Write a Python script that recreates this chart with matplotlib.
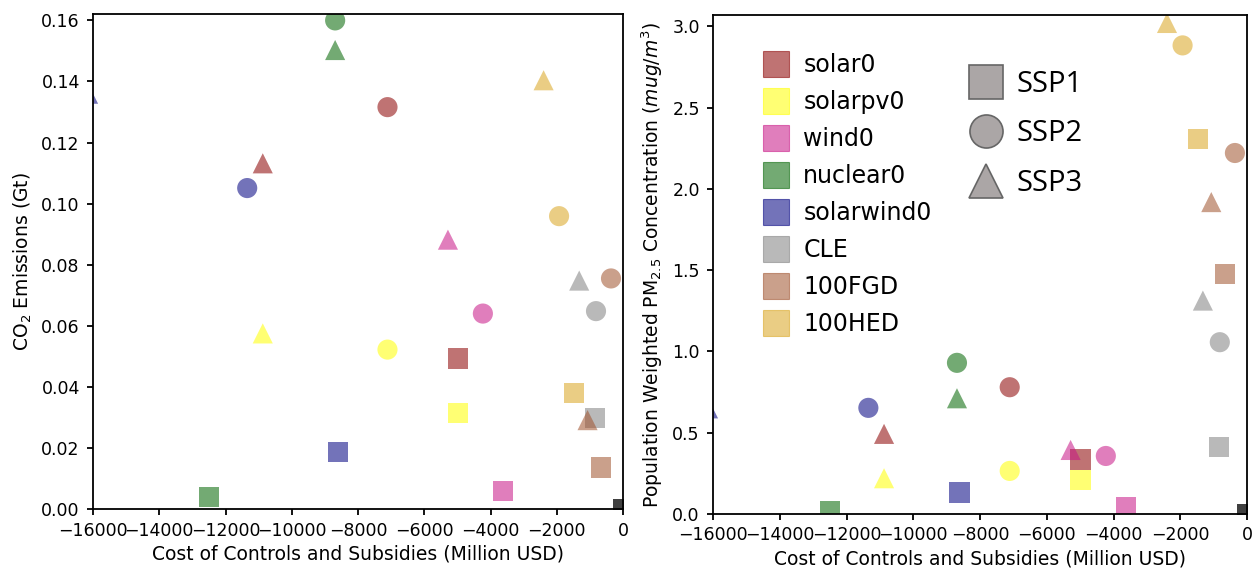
import matplotlib
matplotlib.use('Agg')
import matplotlib.pyplot as plt
from matplotlib.lines import Line2D

scenarios = ['solar0', 'solarpv0', 'wind0', 'nuclear0', 'solarwind0', 'CLE', '100FGD', '100HED']
ssp_labels = ['SSP1', 'SSP2', 'SSP3']

cost_ssp1 = [-4990, -4990, -3625, -12500, -8615, -847, -653, -1477]
cost_ssp2 = [-7110, -7110, -4230, -8690, -11345, -815, -362, -1930]
cost_ssp3 = [-10875, -10875, -5285, -8690, -16150, -1322, -1070, -2397]

co2_ssp1 = [0.0493, 0.0315, 0.0060, 0.0038, 0.0188, 0.0299, 0.0136, 0.0379]
co2_ssp2 = [0.1316, 0.0522, 0.0640, 0.1600, 0.1051, 0.0648, 0.0755, 0.0959]
co2_ssp3 = [0.1132, 0.0575, 0.0882, 0.1503, 0.1360, 0.0748, 0.0291, 0.1404]

pm_ssp1 = [0.335, 0.209, 0.041, 0.020, 0.132, 0.414, 1.478, 2.307]
pm_ssp2 = [0.780, 0.265, 0.357, 0.930, 0.653, 1.057, 2.221, 2.883]
pm_ssp3 = [0.493, 0.220, 0.394, 0.712, 0.650, 1.313, 1.919, 3.021]

base_cost = [0]
base_co2 = [0]
base_pm = [0]

colors = ['darkred', 'yellow', 'mediumvioletred', 'darkgreen', 'navy', 'gray', 'sienna', 'goldenrod']

fig = plt.figure(figsize=(12.55, 5.71), dpi=100)
ax1 = fig.add_axes([93/1255, 1-509/571, 530/1255, (509-14.3)/571])
ax2 = fig.add_axes([713/1255, 1-514/571, 534/1255, (514-15)/571])

costs = [cost_ssp1, cost_ssp2, cost_ssp3]
co2s = [co2_ssp1, co2_ssp2, co2_ssp3]
pms = [pm_ssp1, pm_ssp2, pm_ssp3]
markers = ['s', 'o', '^']

for ax, ys, base_y in [(ax1, co2s, base_co2), (ax2, pms, base_pm)]:
    for xs, yv, m in zip(costs, ys, markers):
        ax.scatter(xs, yv, c=colors, marker=m, s=210, alpha=0.55, linewidths=0)
    ax.scatter(base_cost, base_y, c='black', marker='s', s=210, alpha=0.75, linewidths=0)
    ax.set_xlim(-16000, 0)
    ax.set_xticks(range(-16000, 1, 2000))
    ax.tick_params(labelsize=12.5, width=1.3, length=4.5)
    ax.tick_params(axis='y', pad=5)
    ax.tick_params(axis='x', pad=4.5)
    for sp in ax.spines.values():
        sp.set_linewidth(1.3)
    ax.set_xlabel('Cost of Controls and Subsidies (Million USD)', fontsize=13.5, labelpad=3.5)

ax1.set_ylim(0, 0.162)
ax1.set_yticks([0, 0.02, 0.04, 0.06, 0.08, 0.10, 0.12, 0.14, 0.16])
ax1.set_ylabel('CO$_2$ Emissions (Gt)', fontsize=13.5, labelpad=5)

ax2.set_ylim(0, 3.07)
ax2.set_yticks([0, 0.5, 1.0, 1.5, 2.0, 2.5, 3.0])
ax2.set_ylabel('Population Weighted PM$_{2.5}$ Concentration ($mug/m^3$)', fontsize=13.5, labelpad=5)

h1 = [Line2D([], [], marker='s', linestyle='none', color=c, alpha=0.55,
             markersize=18.7, markeredgewidth=0.8) for c in colors]
leg1 = ax2.legend(h1, scenarios, loc='upper left', bbox_to_anchor=(762/1255, 1-53/571),
                  bbox_transform=fig.transFigure, frameon=False, fontsize=17,
                  borderpad=0, borderaxespad=0, labelspacing=0.55, handlelength=1.2,
                  handletextpad=0.55)
ax2.add_artist(leg1)

h2 = [Line2D([], [], marker=m, linestyle='none', markerfacecolor=(0.67, 0.65, 0.65),
             markeredgecolor=(0.40, 0.40, 0.40), markersize=23.8, markeredgewidth=1.2)
      for m in markers]
leg2 = ax2.legend(h2, ssp_labels, loc='upper left', bbox_to_anchor=(968/1255, 1-70/571),
                  bbox_transform=fig.transFigure, frameon=False,
                  prop={'family': 'Open Sans', 'size': 21},
                  borderpad=0, borderaxespad=0, labelspacing=0.7, handlelength=1.2,
                  handletextpad=0.45)

fig.savefig('out.png', dpi=100)
